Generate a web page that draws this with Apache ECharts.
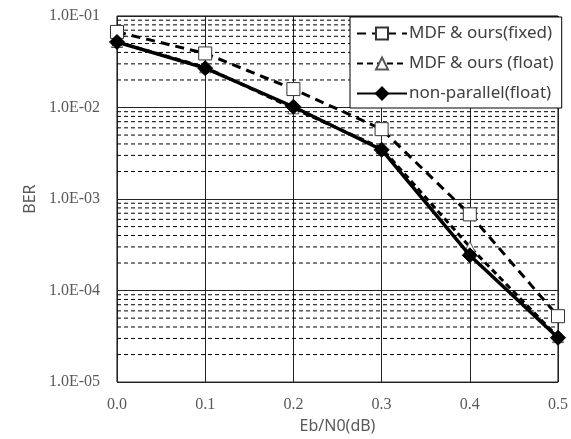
<!DOCTYPE html>
<html>
<head>
<meta charset="utf-8">
<script src="https://cdn.jsdelivr.net/npm/echarts@6/dist/echarts.min.js"></script>
<style>html,body{margin:0;padding:0;background:#fff}#c{width:571px;height:439px}</style>
</head>
<body>
<div id="c"></div>
<script>
const xValues = [0, 0.1, 0.2, 0.3, 0.4, 0.5];
const fixedBER = [0.067, 0.039, 0.0159, 0.0058, 0.00068, 0.0000525];
const floatBER = [0.052, 0.0275, 0.0098, 0.0036, 0.00030, 0.000031];
const nonParallelBER = [0.052, 0.0269, 0.0102, 0.00346, 0.000243, 0.0000305];
const seriesNames = ['MDF & ours(fixed)', 'MDF & ours (float)', 'non-parallel(float)'];
const xTickLabels = ['0.0', '0.1', '0.2', '0.3', '0.4', '0.5'];
const yTickLabels = ['1.0E-05', '1.0E-04', '1.0E-03', '1.0E-02', '1.0E-01'];
const decades = [1e-5, 1e-4, 1e-3, 1e-2];
const minorMultipliers = [2, 3, 4, 5, 6, 7, 8, 9];

const minorGridValues = [];
decades.forEach(function (d) {
  minorMultipliers.forEach(function (m) { minorGridValues.push(+(d * m).toPrecision(3)); });
});

function pairs(ys) { return xValues.map(function (x, i) { return [x, ys[i]]; }); }

const numFont = 'Liberation Serif';
const series = minorGridValues.map(function (v) {
  return {
    type: 'line', silent: true, z: 1, symbol: 'none',
    data: [[xValues[0], v], [xValues[xValues.length - 1], v]],
    lineStyle: { color: '#000', width: 1, type: [4, 3] },
    tooltip: { show: false }
  };
});
series.push(
  {
    name: seriesNames[0], type: 'line', data: pairs(fixedBER), z: 3,
    symbol: 'rect', symbolSize: 13, showAllSymbol: true,
    lineStyle: { color: '#000', width: 3, type: [9, 6] },
    itemStyle: { color: '#fff', borderColor: '#333', borderWidth: 1 }
  },
  {
    name: seriesNames[1], type: 'line', data: pairs(floatBER), z: 4,
    symbol: 'triangle', symbolSize: 11, showAllSymbol: true,
    lineStyle: { color: '#000', width: 3, type: [6, 4] },
    itemStyle: { color: '#fff', borderColor: '#555', borderWidth: 1 }
  },
  {
    name: seriesNames[2], type: 'line', data: pairs(nonParallelBER), z: 5,
    symbol: 'diamond', symbolSize: 15, showAllSymbol: true,
    lineStyle: { color: '#000', width: 3.5, type: 'solid' },
    itemStyle: { color: '#000', borderColor: '#000', borderWidth: 1 }
  }
);

const chart = echarts.init(document.getElementById('c'), null, { renderer: 'canvas' });
chart.setOption({
  animation: false,
  backgroundColor: '#fff',
  grid: { left: 117, right: 10, top: 16, bottom: 56, show: true, borderColor: '#000', borderWidth: 1, backgroundColor: 'transparent' },
  xAxis: {
    type: 'value', min: 0, max: 0.5, interval: 0.1,
    name: 'Eb/N0(dB)', nameLocation: 'middle', nameGap: 30,
    nameTextStyle: { fontFamily: 'Noto Sans', fontSize: 16, color: '#595959' },
    axisLine: { show: false }, axisTick: { show: false },
    axisLabel: { margin: 15, fontFamily: numFont, fontSize: 16, color: '#595959',
      formatter: function (v) { return xTickLabels[Math.round(v * 10)]; } },
    splitLine: { show: true, lineStyle: { color: '#222', width: 1, type: 'solid' } }
  },
  yAxis: {
    type: 'log', logBase: 10, min: 1e-5, max: 1e-1,
    name: 'BER', nameLocation: 'middle', nameGap: 69, nameRotate: 90,
    nameTextStyle: { fontFamily: 'Noto Sans', fontSize: 16, color: '#595959' },
    axisLine: { show: false }, axisTick: { show: false },
    axisLabel: { margin: 17, fontFamily: numFont, fontSize: 16, color: '#595959',
      formatter: function (v) { const e = Math.round(Math.log10(v)); return yTickLabels[e + 5]; } },
    splitLine: { show: true, lineStyle: { color: '#222', width: 1, type: 'solid' } }
  },
  legend: {
    orient: 'vertical', left: 350, top: 17,
    backgroundColor: '#fff', borderColor: '#000', borderWidth: 1,
    padding: [8, 8, 6, 6], itemGap: 13, itemWidth: 50, itemHeight: 15,
    textStyle: { fontFamily: 'Noto Sans', fontSize: 17, color: '#404040', padding: [0, 0, 0, -3] },
    data: seriesNames
  },
  series: series
});
</script>
</body>
</html>
